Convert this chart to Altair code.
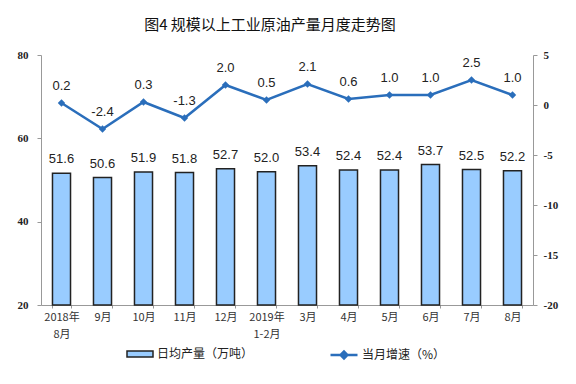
import altair as alt
import pandas as pd

months = ["2018年\n8月", "9月", "10月", "11月", "12月", "2019年\n1-2月",
          "3月", "4月", "5月", "6月", "7月", "8月"]
output = [51.6, 50.6, 51.9, 51.8, 52.7, 52.0, 53.4, 52.4, 52.4, 53.7, 52.5, 52.2]
growth = [0.2, -2.4, 0.3, -1.3, 2.0, 0.5, 2.1, 0.6, 1.0, 1.0, 2.5, 1.0]
bar_name = "日均产量（万吨）"
line_name = "当月增速（%）"

df = pd.DataFrame({"month": months, "output": output, "growth": growth,
                   "s1": bar_name, "s2": line_name})

BAR = "#99CCFF"
LINE = "#2A6EBB"
CJK = "Noto Sans CJK SC"
SERIF = "Liberation Serif"
FIXMINUS = "replace(datum.label, '\u2212', '-')"

x = alt.X("month:N", sort=months,
          scale=alt.Scale(paddingInner=0.56, paddingOuter=0.28),
          axis=alt.Axis(title=None, labelAngle=0, labelExpr="split(datum.label, '\\n')",
                        tickBand="extent", domainColor="#999", tickColor="#999",
                        tickSize=3, labelFont=CJK, labelFontSize=11, labelColor="#333",
                        labelPadding=3, labelLineHeight=17))

yl = alt.Y("output:Q", scale=alt.Scale(domain=[20, 80], zero=False),
           axis=alt.Axis(title=None, values=[20, 40, 60, 80], grid=False,
                         domainColor="#999", tickColor="#999", tickSize=4,
                         labelFont=SERIF, labelFontSize=11, labelFontWeight="bold",
                         labelColor="#222", labelPadding=9))

bars = alt.Chart(df).mark_bar(stroke="#222", strokeWidth=1.5).encode(
    x=x, y=yl, y2=alt.datum(20),
    fill=alt.Fill("s1:N", scale=alt.Scale(domain=[bar_name], range=[BAR]),
                  legend=alt.Legend(title=None, orient="none", legendX=85, legendY=285,
                                    symbolType="M-1,-0.23H1V0.23H-1Z", symbolSize=676,
                                    symbolStrokeColor="#222", symbolStrokeWidth=1.5,
                                    labelFont=CJK, labelFontSize=12, labelColor="#222",
                                    labelOffset=3)))

bar_text = alt.Chart(df).mark_text(dy=-14, baseline="middle", fontSize=13,
                                   font="Liberation Sans", color="#222").transform_calculate(
    lbl="format(datum.output, '.1f')").encode(x=x, y=yl, text="lbl:N")

yr = alt.Y("growth:Q", scale=alt.Scale(domain=[-20, 5], zero=False),
           axis=alt.Axis(title=None, orient="right", values=[-20, -15, -10, -5, 0, 5],
                         grid=False, domainColor="#999", tickColor="#999", tickSize=4,
                         labelFont=SERIF, labelFontSize=11, labelFontWeight="bold",
                         labelColor="#222", labelPadding=6, labelExpr=FIXMINUS))

line = alt.Chart(df).mark_line(strokeWidth=2.5).encode(
    x=x, y=yr,
    stroke=alt.Stroke("s2:N", scale=alt.Scale(domain=[line_name], range=[LINE]),
                      legend=alt.Legend(title=None, orient="none", legendX=288, legendY=285,
                                        symbolType="M-1,0H1M-0.25,0L0,-0.25L0.25,0L0,0.25Z",
                                        symbolSize=729, symbolFillColor=LINE,
                                        symbolStrokeColor=LINE, symbolStrokeWidth=2.5,
                                        labelFont=CJK, labelFontSize=12, labelColor="#222",
                                        labelOffset=3)))

pts = alt.Chart(df).mark_point(shape="diamond", filled=True, size=55, color=LINE,
                               opacity=1).encode(x=x, y=yr)

line_text = alt.Chart(df).mark_text(dy=-17, baseline="middle", fontSize=13,
                                    font="Liberation Sans", color="#222").transform_calculate(
    lbl="replace(format(datum.growth, '.1f'), '\u2212', '-')").encode(x=x, y=yr, text="lbl:N")

left = alt.layer(bars, bar_text)
right = alt.layer(line, pts, line_text)

chart = alt.layer(left, right).resolve_scale(y="independent", fill="independent",
                                             stroke="independent").properties(
    width=492, height=250,
    autosize=alt.AutoSizeParams(type="none"),
    padding={"left": 33, "top": 47, "right": 35, "bottom": 71},
    title=alt.TitleParams("图4  规模以上工业原油产量月度走势图", font=CJK, fontSize=15,
                          fontWeight="normal", color="#111", offset=16, dx=-17,
                          anchor="middle"),
).configure_view(stroke=None)

chart.save("out.html", embed_options={"renderer": "svg", "actions": False})
